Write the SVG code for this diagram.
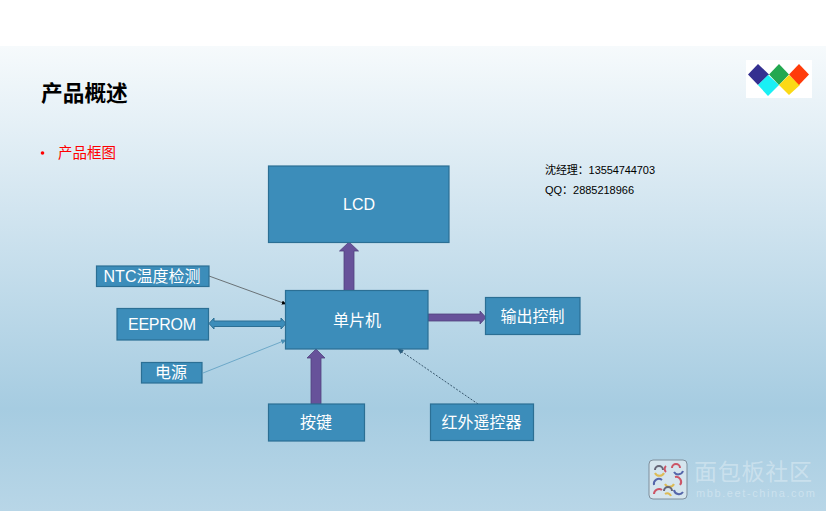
<svg xmlns="http://www.w3.org/2000/svg" width="826" height="511" viewBox="0 0 826 511">
<style>
text{font-family:"Liberation Sans","Noto Sans CJK SC",sans-serif}
.b{fill:#3c8dba;stroke:#2b6f94;stroke-width:1.2}
.l{fill:#fff;text-anchor:middle;font-size:16px}
.a{fill:#67529a;stroke:#52417f;stroke-width:.8}
.k{fill:#000;font-size:11px}
.w{fill:#fff;fill-opacity:.32;stroke:none}
</style>
<defs>
<linearGradient id="bg" x1="0" y1="0" x2="0" y2="1">
<stop offset="0" stop-color="#f6fafc"/><stop offset=".35" stop-color="#d2e5f0"/><stop offset=".78" stop-color="#a6cce1"/><stop offset="1" stop-color="#b8d6e7"/>
</linearGradient>
<marker id="mk" markerWidth="7" markerHeight="6" refX="6" refY="3" orient="auto"><path d="M0 0L7 3L0 6Z" fill="#000"/></marker>
<marker id="mb" markerWidth="7" markerHeight="6" refX="6" refY="3" orient="auto"><path d="M0 0L7 3L0 6Z" fill="#4a8fb5"/></marker>
<marker id="md" markerWidth="7" markerHeight="6" refX="6" refY="3" orient="auto"><path d="M0 0L7 3L0 6Z" fill="#2b5f80"/></marker>
</defs>
<rect width="826" height="511" fill="#fff"/>
<rect y="46" width="826" height="465" fill="url(#bg)"/>
<g id="title"><text x="41" y="100.500" font-size="21.700" font-weight="700" fill="#000">产品概述</text></g>
<g id="bullet"><circle cx="42.500" cy="153" r="1.800" fill="#f00"/><text x="58" y="158" font-size="14.500" fill="#f00">产品框图</text></g>
<g id="contact"><text class="k" x="545" y="174" textLength="110">沈经理：13554744703</text><text class="k" x="545" y="194" textLength="89">QQ：2885218966</text></g>
<g id="logo"><rect x="746" y="60" width="66" height="38" fill="#fff"/>
<path d="M758 64L769 74.500L758 85L748 74.500Z" fill="#343090"/>
<path d="M768 75L779 85L768 96L758 85Z" fill="#1af0f5"/>
<path d="M779 64L789 74.500L779 85L769 74.500Z" fill="#23a850"/>
<path d="M789 75L800 85L789 95L779 85Z" fill="#fbd915"/>
<path d="M799 64L809 74.500L799 85L789 74.500Z" fill="#ff3b0a"/></g>
<g id="connectors">
<path d="M209 276L286 304" fill="none" stroke="#444" stroke-width=".7" marker-end="url(#mk)"/>
<path d="M203 373L286 340" fill="none" stroke="#5b9dc0" stroke-width=".8" marker-end="url(#mb)"/>
<path d="M478 404L398 349" fill="none" stroke="#2b4a60" stroke-width=".9" stroke-dasharray="2 1.500" marker-end="url(#md)"/>
<path class="a" d="M344 291V251H339.500L349 242L358.500 251H354V291Z"/>
<path class="a" d="M311 404V358H307L316 349L325 358H321V404Z"/>
<path class="a" d="M428 314H480V311L486 317.500L480 324V321H428Z"/>
<path d="M209 323.500L214 318V321H281V318L286 323.500L281 329V326.500H214V329Z" fill="#3c8dba" stroke="#2b6f94" stroke-width="1"/>
</g>
<g id="lcd"><rect class="b" x="268.500" y="166" width="180.500" height="76.500"/><text class="l" x="359" y="210">LCD</text></g>
<g id="mcu"><rect class="b" x="285.500" y="290.500" width="142.500" height="58.500"/><text class="l" x="357" y="326">单片机</text></g>
<g id="ntc"><rect class="b" x="96.500" y="266" width="112.500" height="20.500"/><text class="l" x="152" y="282">NTC温度检测</text></g>
<g id="eeprom"><rect class="b" x="117" y="308.500" width="91.500" height="31.500"/><text class="l" x="162" y="330" textLength="68">EEPROM</text></g>
<g id="power"><rect class="b" x="141.500" y="362.500" width="60.500" height="20.500"/><text class="l" x="171" y="378">电源</text></g>
<g id="output"><rect class="b" x="485.500" y="297.500" width="94.500" height="37"/><text class="l" x="532.500" y="322">输出控制</text></g>
<g id="keys"><rect class="b" x="268.500" y="404" width="96" height="37"/><text class="l" x="316" y="428">按键</text></g>
<g id="ir"><rect class="b" x="430.500" y="404" width="103" height="36.500"/><text class="l" x="481.500" y="428">红外遥控器</text></g>
<g id="watermark">
<rect x="649" y="460" width="38" height="39" rx="4" fill="#dfeaf0" fill-opacity=".8" stroke="#7f8f9c" stroke-width="1"/>
<g fill="none" stroke-width="2">
<path d="M655 470a4 4 0 0 1 8 0" stroke="#667"/><path d="M666 466a4 4 0 0 0 0 6" stroke="#c56"/><path d="M672 468a4 4 0 0 1 8 0" stroke="#c56"/>
<path d="M655 473a5 5 0 0 0 9 0" stroke="#db5"/><path d="M674 472a5 5 0 0 0 9 -1" stroke="#56a"/>
<path d="M654 485a5 5 0 0 1 8 -5" stroke="#56a"/><path d="M665 484a5 5 0 0 0 9 0" stroke="#db5"/><path d="M675 477a5 5 0 0 1 5 8" stroke="#c56"/>
<path d="M654 494a5 5 0 0 1 8 -4" stroke="#c56"/><path d="M664 491a4 4 0 0 1 8 0" stroke="#667"/><path d="M665 494a4 4 0 0 1 6 2" stroke="#db5"/><path d="M674 490a5 5 0 0 0 9 2" stroke="#56a"/>
</g>
<text class="w" x="694" y="480" font-size="23" textLength="118">面包板社区</text>
<text class="w" x="696" y="497" font-size="11" textLength="119">mbb.eet-china.com</text>
</g>
</svg>
